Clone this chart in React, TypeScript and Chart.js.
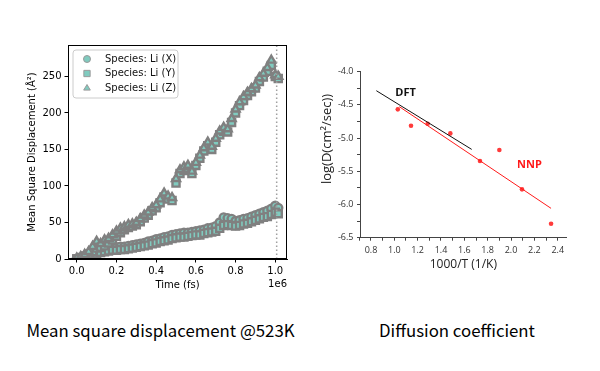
import React, { useEffect, useRef } from 'react';
import { Chart, registerables } from 'chart.js';
Chart.register(...registerables);

// ---------- Left chart: mean square displacement (time in units of 1e6 fs) ----------
const timeFs = [0, 0.02, 0.04, 0.06, 0.08, 0.1, 0.12, 0.14, 0.16, 0.18, 0.2, 0.22, 0.24, 0.26, 0.28, 0.3, 0.32, 0.34, 0.36, 0.38, 0.4, 0.42, 0.44, 0.46, 0.48, 0.5, 0.52, 0.54, 0.56, 0.58, 0.6, 0.62, 0.64, 0.66, 0.68, 0.7, 0.72, 0.74, 0.76, 0.78, 0.8, 0.82, 0.84, 0.86, 0.88, 0.9, 0.92, 0.94, 0.96, 0.98, 1.0, 1.015];
const msdLiX = [0, 1, 3, 5, 8, 11, 13, 14, 15, 16, 16, 17, 17, 18, 19, 20, 21, 22, 24, 25, 27, 28, 30, 31, 33, 34, 35, 36, 36, 37, 38, 39, 40, 42, 43, 45, 50, 57, 56, 55, 52, 53, 55, 56, 58, 60, 62, 64, 66, 69, 73, 70];
const msdLiYLow = [0, 0, 2, 3, 5, 7, 9, 10, 11, 12, 12, 13, 13, 14, 15, 16, 17, 18, 19, 21, 22, 24, 25, 26, 28, 29, 30, 30, 31, 32, 33, 33, 35, 36, 37, 38, 42, 46, 47, 46, 45, 46, 48, 49, 51, 53, 55, 57, 58, 61, 64, 62];
const msdLiY = [0, 2, 4, 7, 10, 15, 16, 18, 22, 26, 31, 36, 40, 43, 45, 47, 51, 56, 60, 66, 70, 77, 85, 82, 80, 104, 117, 121, 124, 117, 128, 138, 148, 155, 150, 160, 170, 175, 174, 187, 200, 210, 217, 224, 229, 234, 243, 249, 257, 265, 250, 247];
const msdLiZ = [1, 3, 6, 10, 17, 24, 21, 26, 28, 33, 38, 42, 44, 47, 48, 50, 55, 60, 64, 70, 74, 82, 90, 86, 84, 110, 122, 126, 128, 120, 132, 142, 152, 160, 154, 165, 175, 180, 178, 192, 205, 215, 222, 228, 233, 238, 248, 254, 262, 272, 252, 250];
const msdTicksX = [0, 0.2, 0.4, 0.6, 0.8, 1.0];
const msdTicksY = [0, 50, 100, 150, 200, 250];
const cutoffTime = 1.007;
const legendLabels = ['Species: Li (X)', 'Species: Li (Y)', 'Species: Li (Z)'];

// ---------- Right chart: diffusion coefficient ----------
const invT = [1.03, 1.143, 1.286, 1.48, 1.734, 1.9, 2.094, 2.343];
const logD = [-4.567, -4.813, -4.783, -4.929, -5.345, -5.18, -5.772, -6.289];
const nnpFitX = [1.043, 2.343];
const nnpFitY = [-4.527, -6.058];
const dftFitX = [0.846, 1.663];
const dftFitY = [-4.286, -5.17];
const diffTicksX = [0.7, 0.8, 0.9, 1.0, 1.1, 1.2, 1.3, 1.4, 1.5, 1.6, 1.7, 1.8, 1.9, 2.0, 2.1, 2.2, 2.3, 2.4];
const diffLabelsX = [0.8, 1.0, 1.2, 1.4, 1.6, 1.8, 2.0, 2.2, 2.4];
const diffTicksY = [-6.5, -6.25, -6.0, -5.75, -5.5, -5.25, -5.0, -4.75, -4.5, -4.25, -4.0];
const diffLabelsY = [-6.5, -6.0, -5.5, -5.0, -4.5, -4.0];
const dftLabel = { text: 'DFT', x: 1.097, y: -4.316 };
const nnpLabel = { text: 'NNP', x: 2.158, y: -5.41 };

const TEAL = '#80cbbf';
const GREY = '#808080';
const MPL_FONT = 'DejaVu Sans';
const WIN_FONT = 'Open Sans';

function pts(xs: number[], ys: number[]) {
  return xs.map((x, i) => ({ x, y: ys[i] }));
}

function drawMarker(ctx: CanvasRenderingContext2D, style: string, x: number, y: number, r: number) {
  ctx.beginPath();
  if (style === 'circle') {
    ctx.arc(x, y, r, 0, Math.PI * 2);
  } else if (style === 'rect') {
    const s = r * 0.9;
    ctx.rect(x - s, y - s, 2 * s, 2 * s);
  } else {
    ctx.moveTo(x, y - r);
    ctx.lineTo(x + r * 0.95, y + r * 0.6);
    ctx.lineTo(x - r * 0.95, y + r * 0.6);
    ctx.closePath();
  }
  ctx.fill();
  ctx.stroke();
}

const msdPlugin = {
  id: 'msdDecor',
  afterDraw(chart: any) {
    const { ctx, chartArea } = chart;
    ctx.save();
    ctx.strokeStyle = '#000';
    ctx.lineWidth = 1;
    ctx.strokeRect(Math.round(chartArea.left) + 0.5, Math.round(chartArea.top) + 0.5,
      Math.round(chartArea.right - chartArea.left) - 1, Math.round(chartArea.bottom - chartArea.top) - 1);
    ctx.fillStyle = '#000';
    ctx.font = `10px "${MPL_FONT}"`;
    ctx.textAlign = 'right';
    ctx.textBaseline = 'middle';
    ctx.fillText('1e6', chartArea.right, 284);
    const lx = chartArea.left + 5, ly = chartArea.top + 5, lw = 105, lh = 48;
    ctx.beginPath();
    const rr = 3;
    ctx.moveTo(lx + rr, ly);
    ctx.lineTo(lx + lw - rr, ly);
    ctx.quadraticCurveTo(lx + lw, ly, lx + lw, ly + rr);
    ctx.lineTo(lx + lw, ly + lh - rr);
    ctx.quadraticCurveTo(lx + lw, ly + lh, lx + lw - rr, ly + lh);
    ctx.lineTo(lx + rr, ly + lh);
    ctx.quadraticCurveTo(lx, ly + lh, lx, ly + lh - rr);
    ctx.lineTo(lx, ly + rr);
    ctx.quadraticCurveTo(lx, ly, lx + rr, ly);
    ctx.closePath();
    ctx.fillStyle = 'rgba(255,255,255,0.8)';
    ctx.fill();
    ctx.strokeStyle = '#cccccc';
    ctx.stroke();
    const styles = ['circle', 'rect', 'triangle'];
    legendLabels.forEach((lab, i) => {
      const y = ly + 9 + i * 14.5;
      ctx.fillStyle = TEAL;
      ctx.strokeStyle = '#9a9a9a';
      ctx.lineWidth = 1;
      drawMarker(ctx, styles[i], lx + 14, y, 3.5);
      ctx.fillStyle = '#111';
      ctx.textAlign = 'left';
      ctx.textBaseline = 'middle';
      ctx.fillText(lab, lx + 32, y);
    });
    ctx.restore();
  },
};

const diffPlugin = {
  id: 'diffDecor',
  afterDatasetsDraw(chart: any) {
    const { ctx, scales } = chart;
    ctx.save();
    ctx.font = `bold 11px "${WIN_FONT}"`;
    ctx.textAlign = 'center';
    ctx.textBaseline = 'middle';
    ctx.fillStyle = '#111';
    ctx.fillText(dftLabel.text, scales.x.getPixelForValue(dftLabel.x), scales.y.getPixelForValue(dftLabel.y));
    ctx.fillStyle = '#ff1a1a';
    ctx.fillText(nnpLabel.text, scales.x.getPixelForValue(nnpLabel.x), scales.y.getPixelForValue(nnpLabel.y));
    ctx.translate(27, 139);
    ctx.rotate(-Math.PI / 2);
    ctx.fillStyle = '#222';
    ctx.font = `13px "${WIN_FONT}"`;
    ctx.fillText('log(D(cm²/sec))', 0, 0);
    ctx.restore();
  },
};

function MsdChart() {
  const ref = useRef<HTMLCanvasElement>(null);
  useEffect(() => {
    const mk = (data: number[], style: string, label: string) => ({
      label,
      data: pts(timeFs, data),
      pointStyle: style,
      pointRadius: style === 'triangle' ? 4.6 : style === 'rect' ? 5 : 4,
      pointBackgroundColor: TEAL,
      pointBorderColor: GREY,
      pointBorderWidth: 2.4,
      showLine: false,
    });
    const chart = new Chart(ref.current!, {
      type: 'scatter',
      data: {
        datasets: [
          {
            label: 'cutoff',
            data: [{ x: cutoffTime, y: 0 }, { x: cutoffTime, y: 293 }],
            showLine: true,
            pointRadius: 0,
            borderColor: '#a0a0a0',
            borderWidth: 1.5,
            borderDash: [1.5, 2.5],
          } as any,
          mk(msdLiZ, 'triangle', legendLabels[2]),
          mk(msdLiY, 'rect', legendLabels[1]),
          mk(msdLiYLow, 'rect', legendLabels[1]),
          mk(msdLiX, 'circle', legendLabels[0]),
        ],
      },
      options: {
        responsive: false,
        animation: false,
        events: [],
        layout: { padding: { top: 45, right: 13, left: 0, bottom: 0 } },
        plugins: { legend: { display: false }, tooltip: { enabled: false } },
        scales: {
          x: {
            type: 'linear',
            min: -0.044,
            max: 1.059,
            afterBuildTicks: (s: any) => { s.ticks = msdTicksX.map((v) => ({ value: v })); },
            afterFit: (s: any) => { s.height = 41; },
            ticks: {
              autoSkip: false,
              maxRotation: 0,
              padding: 3,
              color: '#000',
              font: { family: MPL_FONT, size: 10 },
              callback: (v: any) => Number(v).toFixed(1),
            },
            grid: { drawOnChartArea: false, drawTicks: true, tickLength: 3.5, tickColor: '#000' },
            border: { display: true, color: '#000', width: 1 },
            title: {
              display: true,
              text: 'Time (fs)',
              color: '#000',
              font: { family: MPL_FONT, size: 10 },
              padding: { top: 0, bottom: 9 },
            },
          },
          y: {
            type: 'linear',
            min: 0,
            max: 293,
            afterBuildTicks: (s: any) => { s.ticks = msdTicksY.map((v) => ({ value: v })); },
            afterFit: (s: any) => { s.width = 68; },
            ticks: {
              autoSkip: false,
              padding: 3,
              color: '#000',
              font: { family: MPL_FONT, size: 10 },
              callback: (v: any) => String(v),
            },
            grid: { drawOnChartArea: false, drawTicks: true, tickLength: 3.5, tickColor: '#000' },
            border: { display: true, color: '#000', width: 1 },
            title: {
              display: true,
              text: 'Mean Square Displacement (Å²)',
              color: '#000',
              font: { family: MPL_FONT, size: 10 },
              padding: { top: 26, bottom: 0 },
            },
          },
        },
      },
      plugins: [msdPlugin],
    });
    return () => chart.destroy();
  }, []);
  return <canvas ref={ref} width={300} height={300} style={{ position: 'absolute', left: 0, top: 0 }} />;
}

function DiffChart() {
  const ref = useRef<HTMLCanvasElement>(null);
  useEffect(() => {
    const chart = new Chart(ref.current!, {
      type: 'scatter',
      data: {
        datasets: [
          {
            label: 'NNP fit',
            data: pts(nnpFitX, nnpFitY),
            showLine: true,
            pointRadius: 0,
            borderColor: '#ff1a1a',
            borderWidth: 1,
          } as any,
          {
            label: 'DFT fit',
            data: pts(dftFitX, dftFitY),
            showLine: true,
            pointRadius: 0,
            borderColor: '#111',
            borderWidth: 1,
          },
          {
            label: 'NNP',
            data: pts(invT, logD),
            pointRadius: 2.3,
            pointBackgroundColor: '#ff3b3b',
            pointBorderColor: '#ff3b3b',
            pointBorderWidth: 0,
            showLine: false,
          },
        ],
      },
      options: {
        responsive: false,
        animation: false,
        events: [],
        layout: { padding: { top: 71.7, right: 33.3, left: 0, bottom: 0 } },
        plugins: { legend: { display: false }, tooltip: { enabled: false } },
        scales: {
          x: {
            type: 'linear',
            min: 0.706,
            max: 2.477,
            afterBuildTicks: (s: any) => { s.ticks = diffTicksX.map((v) => ({ value: v })); },
            afterFit: (s: any) => { s.height = 62.3; },
            ticks: {
              autoSkip: false,
              maxRotation: 0,
              padding: 4,
              color: '#333',
              font: { family: WIN_FONT, size: 9 },
              callback: (v: any) => (diffLabelsX.includes(Math.round(Number(v) * 10) / 10) ? Number(v).toFixed(1) : ''),
            },
            grid: { drawOnChartArea: false, drawTicks: true, tickLength: 3, tickColor: '#444' },
            border: { display: true, color: '#444', width: 1 },
            title: {
              display: true,
              text: '1000/T (1/K)',
              color: '#222',
              font: { family: WIN_FONT, size: 12 },
              padding: { top: 0, bottom: 27.8 },
            },
          },
          y: {
            type: 'linear',
            min: -6.5,
            max: -4.0,
            afterBuildTicks: (s: any) => { s.ticks = diffTicksY.map((v) => ({ value: v })); },
            afterFit: (s: any) => { s.width = 60; },
            ticks: {
              autoSkip: false,
              padding: 3.5,
              color: '#333',
              font: { family: WIN_FONT, size: 9 },
              callback: (v: any) => (diffLabelsY.includes(Math.round(Number(v) * 10) / 10) && Math.abs(Number(v) * 2 - Math.round(Number(v) * 2)) < 1e-6 ? Number(v).toFixed(1) : ''),
            },
            grid: { drawOnChartArea: false, drawTicks: true, tickLength: 3, tickColor: '#444' },
            border: { display: true, color: '#444', width: 1 },
          },
        },
      },
      plugins: [diffPlugin],
    });
    return () => chart.destroy();
  }, []);
  return <canvas ref={ref} width={300} height={300} style={{ position: 'absolute', left: 300, top: 0 }} />;
}

const captionStyle: React.CSSProperties = {
  position: 'absolute',
  top: 319,
  textAlign: 'center',
  fontFamily: '"Noto Sans CJK SC", "Noto Sans", sans-serif',
  fontSize: 16.8,
  fontWeight: 400,
  lineHeight: '22px',
  color: '#000',
  whiteSpace: 'nowrap',
};

export default function App() {
  return (
    <div style={{ position: 'absolute', left: 0, top: 0, width: 600, height: 371, background: '#fff', overflow: 'hidden' }}>
      <MsdChart />
      <DiffChart />
      <div style={{ ...captionStyle, left: 0, width: 321 }}>Mean square displacement @523K</div>
      <div style={{ ...captionStyle, left: 300, width: 314 }}>Diffusion coefficient</div>
    </div>
  );
}
